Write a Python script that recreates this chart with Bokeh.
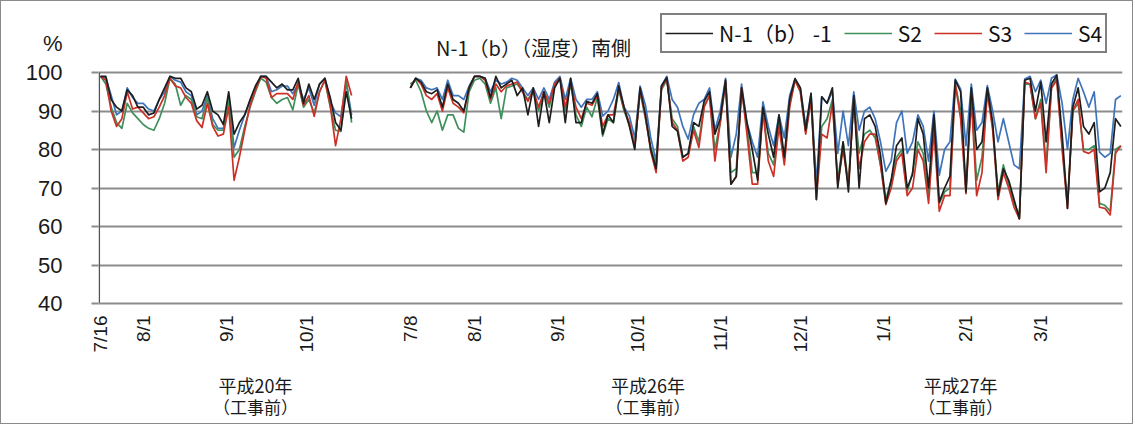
import math
import numpy as np
import pandas as pd
from bokeh.plotting import figure
from bokeh.models import (ColumnDataSource, Range1d, FixedTicker, Label,
                          Legend, LegendItem, LinearAxis)
from bokeh.embed import file_html
from bokeh.resources import INLINE

# ---------------- data ----------------
title_text = "N-1（b）（湿度）南側"
unit_text = "%"
series_names = ["N-1（b） -1", "S2", "S3", "S4"]
series_colors = ["#1e1e1e", "#3f8f5c", "#cc3127", "#3f74bb"]

seg1_start, seg1_end = "2008-07-16", "2008-10-18"
seg2_start, seg2_end = "2014-07-08", "2015-03-31"
sample_step = "2D"

n1_2008 = [99, 99, 93, 91, 90, 95.5, 94, 91, 91, 89, 89.5, 93, 96, 99, 98.5, 98.5,
           96, 95, 90.5, 91.5, 95, 90, 89, 86.5, 95, 84, 87, 89, 93, 96.5, 99, 99,
           97.5, 96, 97, 95.5, 95.5, 98.5, 92, 97, 93, 97, 98.5, 93.5, 87, 85, 95, 88]
s2_2008 = [99, 97, 91, 87, 85.5, 92, 89.5, 88, 86.5, 85.5, 85, 88, 92, 98.5, 97, 91.5,
           94, 93, 88.5, 88, 93.5, 86.5, 85, 85, 93, 78, 80, 86, 91, 95, 98.5, 97.5,
           93.5, 92, 93, 93.5, 90.3, 97, 91, 93, 89.5, 95, 98, 91, 85, 84.7, 98, 87]
s3_2008 = [99, 98, 90, 86, 88, 95, 90.5, 91, 89.5, 88, 88.5, 91, 94, 98.5, 96.5, 96,
           93.5, 92, 87.5, 85.7, 92, 86, 83.5, 84, 91, 72, 78, 85, 91.5, 95.5, 99, 98.5,
           93.5, 94.5, 94.5, 94.5, 93, 97.5, 91.5, 94, 88.6, 95, 98, 91.5, 81, 88, 99, 94]
s4_2008 = [99, 98.5, 94, 89, 90, 96, 93.5, 92, 92, 90.5, 90, 93, 95, 99, 98, 97.5,
           95, 94, 89, 90, 94, 88, 85.5, 85.5, 94, 80.5, 85, 89, 92.5, 96, 99, 99,
           95, 95.5, 96.5, 96.5, 94.5, 97, 93, 96, 91.5, 97, 98.5, 92.5, 89.5, 88.5, 97.5, 89]

n1_2014 = [96, 98.5, 97.5, 95, 94.5, 95.5, 91, 97, 93, 92,
           90, 96, 99, 99, 98.5, 93.5, 99, 96, 97, 98,
           94, 96, 89, 96, 86, 95, 87, 96, 98.5, 87,
           98.5, 87, 87, 92.5, 92, 94.5, 84, 89, 87, 96.5,
           91, 86, 80, 96, 89, 80, 75, 96.5, 98.7, 86,
           84.8, 78, 79, 87, 86, 92.6, 95, 84, 88, 98,
           71, 73, 96, 87, 80, 72, 91, 84, 78, 89,
           78, 93, 98.4, 96, 85, 94.6, 67, 93.7, 92, 96,
           70, 82, 69, 94, 70, 88, 89, 86, 78.6, 66,
           72, 81, 83, 70, 73.5, 88, 84, 70, 89, 66.4,
           70, 73, 98, 95, 69, 96, 80, 82, 96, 87,
           68, 75, 72, 67, 62, 98, 98.5, 90, 97.5, 82,
           97, 99.3, 84, 64.7, 91, 96, 86, 84, 87, 69,
           70, 74, 88, 86]
s2_2014 = [97, 98, 95, 90, 87, 90, 85, 89, 89, 85.5,
           84.5, 95, 98, 98.5, 97, 92, 96, 88, 96, 96.5,
           97, 95, 93, 95, 90, 95, 91, 97, 98.5, 90,
           97, 89, 86, 91, 88.5, 93.5, 83.5, 88, 87, 95.5,
           90, 86.5, 81, 95, 88, 80.5, 76, 95.5, 98, 88,
           86, 78, 79, 86, 82, 91.5, 94, 80, 87, 97.5,
           74, 75, 95.5, 86, 74, 74, 90, 79, 76, 87,
           77, 92, 98, 95, 84.5, 93, 69, 86, 88, 93,
           72, 82, 71, 93, 79, 84, 85, 83, 76, 67,
           72, 78, 80, 69, 74, 82, 79, 68, 86, 66,
           69, 70, 97, 90, 70, 94, 72, 78, 95, 86,
           69, 76, 71, 66, 63, 97, 97, 88, 93, 76,
           96, 98.5, 81, 66, 90, 92, 80, 80, 81, 66,
           65.5, 64, 80, 81]
s3_2014 = [96, 98.5, 97, 94, 93, 94.5, 90, 96, 92, 91,
           89.5, 96, 99, 99, 98, 93, 97, 95, 96.5, 97,
           97.5, 95, 92.5, 95.5, 91, 95, 92, 97, 98.5, 91,
           97.5, 91, 88, 92, 91.5, 94, 86, 89, 89, 96,
           90.5, 87, 80.5, 95.5, 88.5, 79.5, 74, 96, 98.5, 87,
           85, 77, 78, 85, 80.5, 91, 94, 77, 87, 97.5,
           71, 73, 96, 84, 71, 71, 90, 77, 73, 86,
           76, 91, 98, 95, 84, 93, 67, 84, 83, 92,
           71, 80, 70.5, 93, 75, 82, 84, 84, 76, 65.7,
           70, 77, 79, 68, 70, 80, 77, 66, 85, 64,
           68, 68, 97, 88, 68.5, 93, 68, 74, 95, 85,
           67, 74, 70, 65, 62, 97.5, 97, 88, 92, 74,
           96, 98, 80, 64.7, 90, 93, 79.5, 79, 80, 65,
           64.7, 63, 79, 81]
s4_2014 = [96, 98.5, 98, 96, 95.5, 96, 93, 98, 94, 94,
           93, 96.5, 99, 99, 98.5, 95, 98, 97, 97.5, 98.5,
           98, 96, 94, 96, 93, 96, 93, 97.5, 99, 93,
           98.5, 93, 91, 93, 93, 95, 88.7, 90, 93, 97.4,
           91, 88.7, 83, 96.5, 91.5, 83, 77, 96.5, 99, 93,
           91, 86, 82.7, 89, 92, 93, 96, 85, 90, 98.5,
           78, 84, 97, 87, 82, 78, 92.4, 86, 81, 89,
           83, 94, 98.4, 96, 86, 94.6, 71, 93.7, 92, 95,
           79, 90, 81, 95, 85, 90, 91, 88, 82, 74.3,
           77, 87, 90, 79, 82, 89, 86, 77, 90, 73.3,
           80, 82, 98.3, 95.7, 81, 97, 85, 87, 96.6, 90,
           82, 88, 82, 76, 75, 98.3, 99, 95, 98, 92,
           98.5, 99.4, 92, 80, 93, 98.5, 95, 91, 95, 79.3,
           78, 79, 93, 94]

y_ticks = [40, 50, 60, 70, 80, 90, 100]
tick_dates = ["2008-07-16", "2008-08-01", "2008-09-01", "2008-10-01",
              "2014-07-08", "2014-08-01", "2014-09-01", "2014-10-01", "2014-11-01",
              "2014-12-01", "2015-01-01", "2015-02-01", "2015-03-01"]
tick_labels = ["7/16", "8/1", "9/1", "10/1",
               "7/8", "8/1", "9/1", "10/1", "11/1",
               "12/1", "1/1", "2/1", "3/1"]
group_dates = ["2008-09-12", "2014-10-05", "2015-01-30"]
group_years = ["平成20年", "平成26年", "平成27年"]
group_note = "（工事前）"

# ---------------- category positions (one slot per day, blank slots between periods) ----------------
SEG1_SLOTS = 96   # 7/16 .. 10/19 (2008)
GAP_SLOTS = 20    # empty categories between the two periods


def slot(d):
    d = pd.Timestamp(d)
    if d.year < 2010:
        return (d - pd.Timestamp(seg1_start)).days
    return SEG1_SLOTS + GAP_SLOTS + (d - pd.Timestamp(seg2_start)).days


dates1 = pd.date_range(seg1_start, seg1_end, freq=sample_step)
dates2 = pd.date_range(seg2_start, seg2_end, freq=sample_step)
assert len(dates1) == len(n1_2008) == len(s2_2008) == len(s3_2008) == len(s4_2008)
assert len(dates2) == len(n1_2014) == len(s2_2014) == len(s3_2014) == len(s4_2014)

x = [slot(d) for d in dates1] + [SEG1_SLOTS + GAP_SLOTS / 2] + [slot(d) for d in dates2]
cols = {"x": x}
for key, a, b in [("n1", n1_2008, n1_2014), ("s2", s2_2008, s2_2014),
                  ("s3", s3_2008, s3_2014), ("s4", s4_2008, s4_2014)]:
    cols[key] = list(a) + [np.nan] + list(b)
source = ColumnDataSource(cols)

last_slot = slot(seg2_end)

# ---------------- layout constants ----------------
PX_PER_UNIT = 231 / 60.0          # plot area: 231 px for 40..100
TOP_EXTRA = 64 / PX_PER_UNIT      # frame continues above 100 so the header fits
pct_pos = y_ticks[-1] + 29 / PX_PER_UNIT
x0 = -0.75

# ---------------- figure ----------------
p = figure(width=1133, height=424, output_backend="svg", toolbar_location=None,
           x_range=Range1d(x0, last_slot + 0.6),
           y_range=Range1d(y_ticks[0], y_ticks[-1] + TOP_EXTRA),
           min_border_left=97, min_border_right=12, min_border_top=7,
           min_border_bottom=122)
p.styles = {"border": "1px solid #8a8a8a"}
p.background_fill_color = "white"
p.border_fill_color = "white"
p.outline_line_color = None

grid_col = "#8c8c8c"
p.xgrid.visible = False
p.ygrid.ticker = FixedTicker(ticks=y_ticks)
p.ygrid.grid_line_color = grid_col
p.ygrid.grid_line_width = 2

yax = p.yaxis[0]
yax.ticker = FixedTicker(ticks=y_ticks + [pct_pos], minor_ticks=y_ticks)
yax.major_label_overrides = {pct_pos: unit_text}
yax.major_label_text_font = "Liberation Sans"
yax.major_label_text_font_size = "22px"
yax.major_label_text_color = "#1a1a1a"
yax.major_tick_out = 0
yax.major_tick_in = 0
yax.major_tick_line_color = None
yax.minor_tick_out = 7
yax.minor_tick_in = 0
yax.minor_tick_line_color = grid_col
yax.minor_tick_line_width = 2
yax.axis_line_color = None
yax.major_label_standoff = 29

# vertical axis rule only over the value span 40..100
p.segment(x0=[x0 + 0.3], y0=[y_ticks[0]], x1=[x0 + 0.3], y1=[y_ticks[-1]],
          line_color="#555555", line_width=1.5)

xax = p.xaxis[0]
tick_pos = [slot(d) for d in tick_dates]
xax.ticker = FixedTicker(ticks=tick_pos)
xax.major_label_overrides = {t: lab for t, lab in zip(tick_pos, tick_labels)}
xax.major_label_orientation = math.pi / 2
xax.major_label_text_font = "Liberation Sans"
xax.major_label_text_font_size = "19px"
xax.major_label_text_color = "#1a1a1a"
xax.major_tick_out = 0
xax.major_tick_in = 0
xax.major_tick_line_color = None
xax.minor_tick_line_color = None
xax.axis_line_color = grid_col
xax.axis_line_width = 2
xax.major_label_standoff = 12

group_pos = [slot(d) for d in group_dates]
year_axis = LinearAxis(ticker=FixedTicker(ticks=group_pos),
                       major_label_overrides={g: t for g, t in zip(group_pos, group_years)},
                       axis_line_color=None, major_tick_line_color=None,
                       minor_tick_line_color=None, major_tick_out=0, major_tick_in=0,
                       major_label_standoff=16, major_label_text_font="Noto Sans CJK JP",
                       major_label_text_font_size="18px", major_label_text_color="#1a1a1a")
p.add_layout(year_axis, "below")
note_axis = LinearAxis(ticker=FixedTicker(ticks=group_pos),
                       major_label_overrides={g: group_note for g in group_pos},
                       axis_line_color=None, major_tick_line_color=None,
                       minor_tick_line_color=None, major_tick_out=0, major_tick_in=0,
                       major_label_standoff=-7, major_label_text_font="Noto Sans CJK JP",
                       major_label_text_font_size="17px", major_label_text_color="#1a1a1a")
p.add_layout(note_axis, "below")

# lines (drawn so that N-1 ends up on top)
renderers = {}
for key, idx in [("s4", 3), ("s2", 1), ("s3", 2), ("n1", 0)]:
    renderers[key] = p.line("x", key, source=source, line_color=series_colors[idx],
                            line_width=1.7, line_join="round")

legend = Legend(items=[LegendItem(label=series_names[0], renderers=[renderers["n1"]]),
                       LegendItem(label=series_names[1], renderers=[renderers["s2"]]),
                       LegendItem(label=series_names[2], renderers=[renderers["s3"]]),
                       LegendItem(label=series_names[3], renderers=[renderers["s4"]])],
                location=(562, 250), orientation="horizontal",
                border_line_color="black", border_line_width=2,
                background_fill_color="white", background_fill_alpha=1,
                label_text_font="Noto Sans CJK JP", label_text_font_size="21px",
                label_text_color="#111111",
                glyph_width=48, glyph_height=18, label_standoff=6, spacing=12,
                padding=3, margin=0, label_height=18)
p.add_layout(legend)

p.add_layout(Label(x=435, y=256, x_units="screen", y_units="screen", text=title_text,
                   text_align="center", text_baseline="middle",
                   text_font="Noto Sans CJK JP", text_font_size="20px",
                   text_color="#1a1a1a"))

open("out.html", "w").write(file_html(p, INLINE))
